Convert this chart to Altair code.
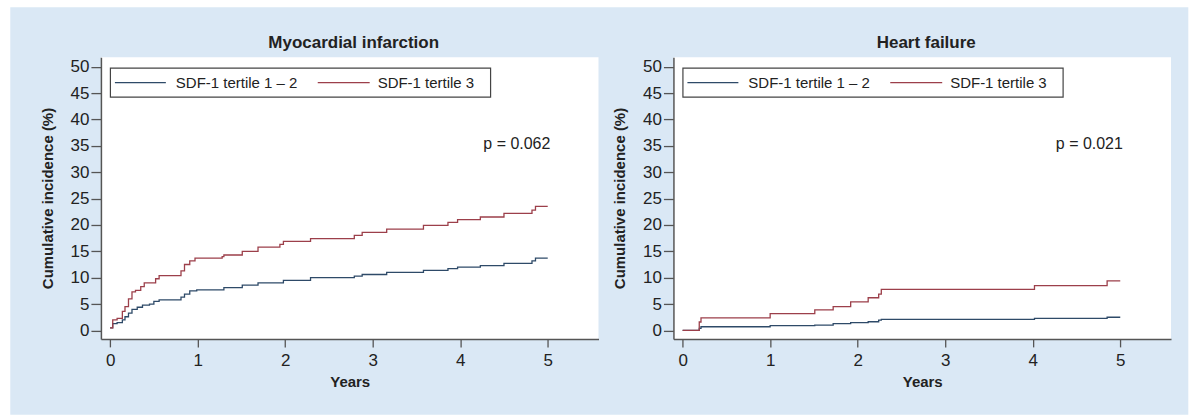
import altair as alt
import pandas as pd

FONT = "Liberation Sans"
GROUPS = ["SDF-1 tertile 1 – 2", "SDF-1 tertile 3"]
COLORS = ["#2e4a68", "#9c3f4a"]

X_TICKS = [0, 1, 2, 3, 4, 5]
Y_TICKS = [0, 5, 10, 15, 20, 25, 30, 35, 40, 45, 50]
X_DOMAIN = [-0.105, 5.58]
Y_DOMAIN = [-1.6, 51.8]

# Myocardial infarction: cumulative incidence (%) step points
mi_low_t = [0, 0.03, 0.08, 0.14, 0.17, 0.21, 0.25, 0.31, 0.37, 0.45, 0.50, 0.56,
            0.81, 0.85, 0.91, 0.99, 1.30, 1.51, 1.69, 1.98, 2.29, 2.79, 2.88,
            3.16, 3.58, 3.86, 3.97, 4.23, 4.50, 4.82, 4.86, 5.00]
mi_low_v = [0.5, 1.3, 1.5, 2.0, 2.6, 3.3, 4.0, 4.4, 4.8, 5.0, 5.5, 5.8,
            6.3, 6.9, 7.5, 7.7, 8.1, 8.6, 9.0, 9.5, 10.0, 10.3, 10.6,
            11.0, 11.4, 11.7, 12.0, 12.3, 12.7, 13.2, 13.7, 13.7]
mi_high_t = [0, 0.03, 0.08, 0.14, 0.17, 0.21, 0.25, 0.29, 0.35, 0.39, 0.52, 0.56,
             0.81, 0.85, 0.91, 0.97, 1.28, 1.30, 1.51, 1.69, 1.94, 1.98, 2.29,
             2.79, 2.88, 3.16, 3.58, 3.86, 3.97, 4.23, 4.50, 4.82, 4.86, 5.00]
mi_high_v = [0.5, 2.0, 2.3, 3.6, 4.5, 6.0, 7.3, 7.6, 8.3, 9.0, 9.8, 10.4,
             11.3, 12.5, 13.2, 13.7, 14.0, 14.3, 15.0, 15.8, 16.3, 16.9, 17.4,
             18.0, 18.6, 19.2, 19.9, 20.5, 21.0, 21.5, 22.2, 22.8, 23.5, 23.5]

# Heart failure
hf_t = [0, 0.19, 0.21, 1.00, 1.51, 1.72, 1.92, 2.12, 2.24, 2.27, 4.02, 4.85, 5.00]
hf_low_v = [0, 0.4, 0.7, 0.9, 1.0, 1.3, 1.5, 1.65, 1.95, 2.1, 2.3, 2.5, 2.5]
hf_high_v = [0, 1.6, 2.4, 3.2, 3.9, 4.5, 5.4, 6.2, 6.9, 7.8, 8.5, 9.4, 9.4]

P_X = 5.03
P_Y = 35.3

W = 498
H = 282
BLUE = "#dae8f5"
INK = "#222222"


def curves(low_t, low_v, high_t, high_v):
    return pd.concat([
        pd.DataFrame({"year": low_t, "pct": low_v, "group": GROUPS[0]}),
        pd.DataFrame({"year": high_t, "pct": high_v, "group": GROUPS[1]}),
    ], ignore_index=True)


def legend_box(one):
    """Boxed horizontal key in the top-left corner of the plot area."""
    box = alt.Chart(one).mark_rect(fill="white", stroke="#444", strokeWidth=1.2).encode(
        x=alt.value(9.5), x2=alt.value(390), y=alt.value(11), y2=alt.value(40))
    parts = [box]
    for (x0, x1, tx), label, col in zip([(14, 65, 75), (217, 269, 277)], GROUPS, COLORS):
        parts.append(alt.Chart(one).mark_rule(color=col, strokeWidth=1.3).encode(
            x=alt.value(x0), x2=alt.value(x1), y=alt.value(25.5)))
        parts.append(alt.Chart(one).mark_text(
            align="left", baseline="middle", font=FONT, fontSize=15, color=INK
        ).encode(x=alt.value(tx), y=alt.value(26), text=alt.value(label)))
    return parts


def panel(title, data, p_label, backdrop=False):
    x = alt.X("year:Q",
              scale=alt.Scale(domain=X_DOMAIN, nice=False, zero=False),
              axis=alt.Axis(values=X_TICKS, title="Years", format="d", zindex=1))
    y = alt.Y("pct:Q",
              scale=alt.Scale(domain=Y_DOMAIN, nice=False, zero=False),
              axis=alt.Axis(values=Y_TICKS, title="Cumulative incidence (%)",
                            format="d", zindex=1))
    one = pd.DataFrame({"k": [0]})

    layers = []
    if backdrop:
        layers.append(
            alt.Chart(one).mark_rect(fill=BLUE).encode(
                x=alt.value(-90.7), x2=alt.value(1088.3),
                y=alt.value(-50), y2=alt.value(358))
        )
    layers.append(
        alt.Chart(one).mark_rect(fill="white").encode(
            x=alt.value(0), x2=alt.value(W), y=alt.value(0), y2=alt.value(H))
    )
    layers.append(
        alt.Chart(one).mark_text(
            align="center", baseline="middle", font=FONT, fontSize=17,
            fontWeight="bold", color=INK
        ).encode(x=alt.value(W / 2 + 4), y=alt.value(-14), text=alt.value(title))
    )
    layers.append(
        alt.Chart(data).mark_line(interpolate="step-after", strokeWidth=1.3).encode(
            x=x, y=y,
            color=alt.Color("group:N",
                            scale=alt.Scale(domain=GROUPS, range=COLORS),
                            legend=None),
            order=alt.Order("year:Q"),
        )
    )
    layers.extend(legend_box(one))
    layers.append(
        alt.Chart(pd.DataFrame({"year": [P_X], "pct": [P_Y], "label": [p_label]}))
        .mark_text(align="right", baseline="middle", font=FONT, fontSize=16, color=INK)
        .encode(x=x, y=y, text="label:N")
    )
    return alt.layer(*layers).properties(width=W, height=H)


left = panel("Myocardial infarction",
             curves(mi_low_t, mi_low_v, mi_high_t, mi_high_v), "p = 0.062", backdrop=True)
right = panel("Heart failure",
              curves(hf_t, hf_low_v, hf_t, hf_high_v), "p = 0.021")

chart = alt.hconcat(left, right, spacing=75, bounds="flush").properties(
    padding={"left": 10, "top": 7, "right": 0, "bottom": 3},
    background="white",
).configure_axis(
    domainColor="#555", domainWidth=1.5, tickColor="#555", tickWidth=1.3,
    labelFont=FONT, labelFontSize=17, labelColor=INK,
    titleFont=FONT, titleFontSize=15, titleFontWeight="bold", titleColor=INK,
    grid=False, zindex=1,
).configure_axisY(tickSize=10, labelPadding=2, titlePadding=15).configure_axisX(
    tickSize=8, labelPadding=6, titlePadding=6
).configure_view(strokeWidth=0)

chart.save("out.html", embed_options={"renderer": "svg", "actions": False})
